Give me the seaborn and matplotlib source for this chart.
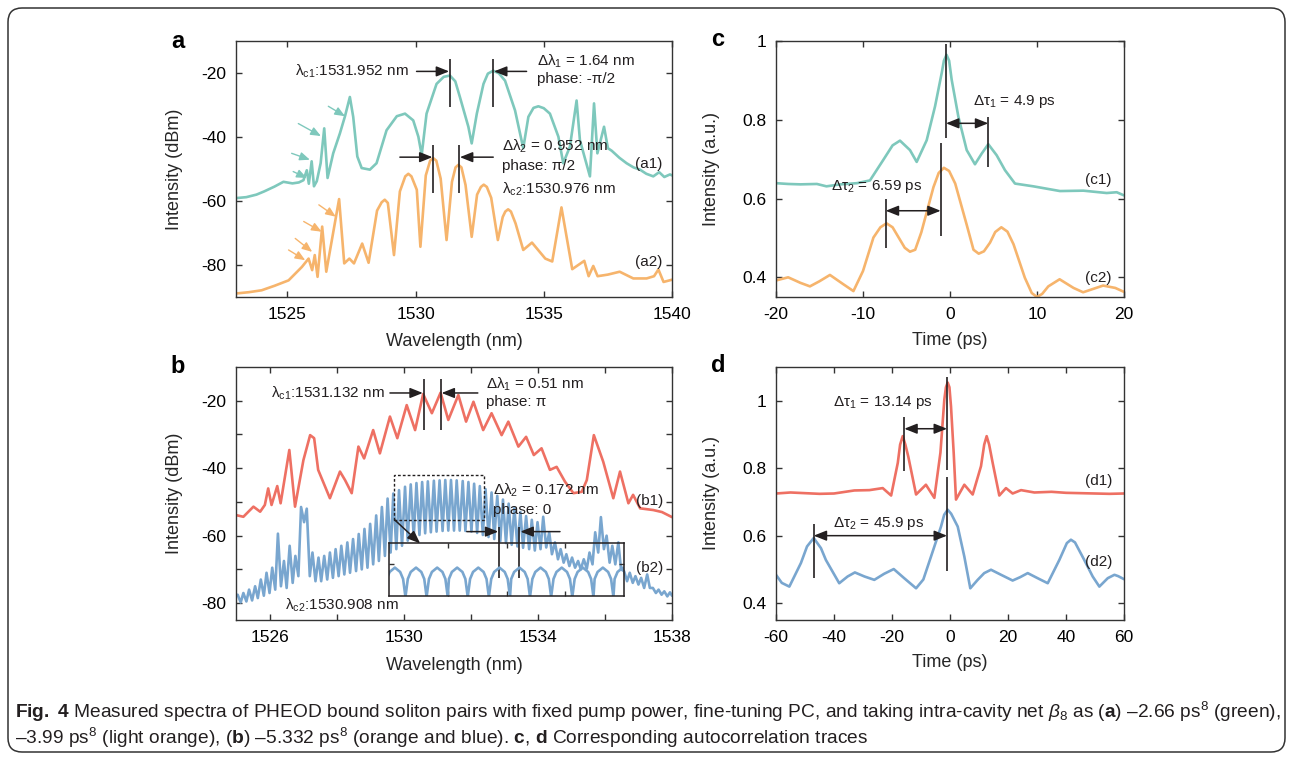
import matplotlib
matplotlib.use("Agg")
import matplotlib.pyplot as plt
import seaborn as sns
from matplotlib.patches import Rectangle, FancyBboxPatch
from matplotlib.transforms import IdentityTransform

# ---------------- data ----------------
# panel a, trace (a1) green
a1_wl = [1523.0, 1523.4, 1523.8, 1524.1, 1524.5, 1524.85, 1525.2, 1525.45, 1525.63, 1525.76,
         1525.84, 1525.95, 1526.04, 1526.15, 1526.3, 1526.44, 1526.57, 1526.79, 1527.05, 1527.25,
         1527.44, 1527.57, 1527.73, 1527.9, 1528.22, 1528.48, 1528.87, 1529.27, 1529.59, 1529.91,
         1530.11, 1530.24, 1530.43, 1530.82, 1531.1, 1531.34, 1531.55, 1531.73, 1532.06, 1532.19,
         1532.39, 1532.65, 1532.82, 1533.03, 1533.25, 1533.49, 1533.88, 1534.2, 1534.4, 1534.6,
         1534.79, 1535.0, 1535.24, 1535.57, 1535.76, 1536.02, 1536.28, 1536.41, 1536.8, 1536.96,
         1537.09, 1537.35, 1537.5, 1537.65, 1537.95, 1538.23, 1538.5, 1538.75, 1539.0, 1539.27,
         1539.5, 1539.7, 1539.92, 1540.0]
a1_db = [-59.1, -58.8, -58.0, -57.0, -55.5, -54.0, -54.5, -54.2, -53.5, -50.4,
         -54.6, -47.6, -55.4, -53.8, -48.2, -37.3, -52.8, -45.1, -38.9, -33.5,
         -27.5, -33.7, -46.1, -49.7, -50.2, -48.2, -37.9, -33.5, -32.7, -34.8,
         -39.9, -45.6, -32.7, -23.4, -21.2, -20.8, -22.6, -27.5, -36.8, -42.0,
         -32.7, -23.4, -20.2, -19.3, -20.1, -22.4, -31.7, -43.5, -33.7, -30.9,
         -30.4, -31.0, -32.7, -39.9, -48.2, -43.0, -28.6, -41.0, -52.3, -29.5,
         -45.1, -36.8, -43.5, -44.3, -46.5, -48.2, -49.5, -50.2, -51.5, -52.3,
         -51.0, -52.5, -51.7, -52.0]

# panel a, trace (a2) light orange
a2_wl = [1523.0, 1523.5, 1524.0, 1524.5, 1525.05, 1525.57, 1525.83, 1525.97, 1526.07, 1526.18,
         1526.36, 1526.52, 1527.02, 1527.22, 1527.42, 1527.6, 1527.92, 1528.17, 1528.5, 1528.68,
         1528.8, 1528.92, 1529.16, 1529.39, 1529.6, 1529.72, 1529.84, 1530.05, 1530.19, 1530.4,
         1530.57, 1530.69, 1530.81, 1530.98, 1531.21, 1531.42, 1531.56, 1531.67, 1531.79, 1531.95,
         1532.19, 1532.4, 1532.55, 1532.66, 1532.78, 1532.95, 1533.21, 1533.4, 1533.5, 1533.61,
         1533.72, 1533.9, 1534.2, 1534.54, 1535.06, 1535.33, 1535.69, 1536.11, 1536.58, 1536.75,
         1536.93, 1537.1, 1537.5, 1537.96, 1538.49, 1539.01, 1539.3, 1539.47, 1539.67, 1540.0]
a2_db = [-88.9, -88.5, -87.9, -86.5, -84.8, -80.6, -78.0, -81.6, -76.9, -83.7,
         -68.0, -82.1, -59.4, -79.5, -78.0, -79.5, -73.3, -79.3, -63.0, -60.4,
         -59.6, -60.6, -76.9, -57.0, -52.3, -51.5, -52.3, -56.5, -74.3, -52.0,
         -47.4, -46.6, -47.4, -53.0, -72.2, -54.0, -49.5, -48.7, -49.5, -55.0,
         -71.2, -58.0, -55.6, -54.9, -55.6, -59.0, -72.2, -65.0, -63.3, -62.6,
         -63.3, -67.0, -75.3, -73.0, -78.0, -78.9, -62.0, -81.3, -78.7, -83.5,
         -80.3, -83.5, -83.0, -82.1, -84.2, -84.2, -83.5, -81.4, -85.3, -84.6]

# panel b, trace (b1) red
b1_wl = [1525.0, 1525.22, 1525.52, 1525.72, 1525.86, 1525.96, 1526.06, 1526.23, 1526.33, 1526.59,
         1526.76, 1527.01, 1527.21, 1527.33, 1527.45, 1527.8, 1528.1, 1528.25, 1528.45, 1528.65,
         1528.82, 1529.09, 1529.29, 1529.59, 1529.81, 1530.09, 1530.34, 1530.58, 1530.84, 1531.1,
         1531.33, 1531.63, 1531.86, 1532.08, 1532.37, 1532.62, 1532.92, 1533.12, 1533.42, 1533.65,
         1533.88, 1534.11, 1534.36, 1534.56, 1534.81, 1535.06, 1535.31, 1535.46, 1535.67, 1535.95,
         1536.25, 1536.45, 1536.7, 1536.84, 1537.05, 1537.44, 1537.7, 1538.0]
b1_db = [-53.9, -54.4, -51.4, -52.9, -50.9, -46.0, -50.9, -45.3, -50.4, -34.6,
         -51.4, -37.6, -30.2, -31.1, -40.5, -48.9, -41.0, -43.5, -47.4, -33.6,
         -37.1, -28.7, -35.6, -24.7, -31.1, -21.3, -28.7, -18.0, -23.7, -17.6,
         -25.7, -18.3, -26.2, -20.3, -28.7, -23.7, -30.2, -26.2, -33.6, -30.7,
         -36.1, -34.1, -40.5, -39.6, -44.0, -47.4, -47.0, -43.5, -30.2, -38.1,
         -48.9, -41.0, -50.4, -47.9, -51.9, -52.4, -53.0, -54.5]

# panel b, trace (b2) blue: fringe maxima and minima
b2_peak_wl = [1525.05, 1525.22, 1525.39, 1525.57, 1525.74, 1525.91, 1526.08, 1526.25, 1526.43, 1526.60,
              1526.77, 1526.94, 1527.11, 1527.28, 1527.46, 1527.63, 1527.80, 1527.97, 1528.14, 1528.32,
              1528.49, 1528.66, 1528.83, 1529.00, 1529.18, 1529.35, 1529.52, 1529.69, 1529.86, 1530.04,
              1530.21, 1530.38, 1530.55, 1530.72, 1530.90, 1531.07, 1531.24, 1531.41, 1531.58, 1531.76,
              1531.93, 1532.10, 1532.27, 1532.44, 1532.62, 1532.79, 1532.96, 1533.13, 1533.30, 1533.48,
              1533.65, 1533.82, 1533.99, 1534.16, 1534.34, 1534.51, 1534.68, 1534.85, 1535.02, 1535.20,
              1535.37, 1535.54, 1535.71, 1535.88, 1536.05, 1536.22, 1536.40, 1536.57, 1536.74, 1536.91,
              1537.08, 1537.26, 1537.43, 1537.60, 1537.77, 1537.94]
b2_peak_db = [-77.5, -77.0, -76.0, -75.0, -73.0, -71.0, -69.5, -59.4, -67.5, -63.0,
              -66.0, -51.5, -52.0, -65.0, -66.5, -66.0, -65.0, -64.0, -63.0, -62.0,
              -61.0, -59.5, -58.0, -56.5, -54.0, -51.5, -49.0, -47.5, -46.5, -45.5,
              -44.8, -44.4, -44.1, -43.9, -43.7, -43.6, -43.5, -43.5, -43.6, -43.8,
              -44.1, -44.6, -45.3, -46.2, -47.2, -48.2, -49.3, -50.5, -51.7, -53.0,
              -54.2, -55.3, -56.0, -54.4, -59.0, -62.0, -64.0, -65.5, -66.5, -67.5,
              -67.0, -65.0, -59.0, -54.5, -60.0, -63.0, -62.0, -70.5, -71.0, -72.0,
              -72.5, -71.5, -75.5, -76.0, -76.5, -76.8]
b2_trough_wl = [1525.14, 1525.31, 1525.48, 1525.65, 1525.83, 1526.00, 1526.17, 1526.34, 1526.51, 1526.69,
                1526.86, 1527.03, 1527.20, 1527.37, 1527.54, 1527.72, 1527.89, 1528.06, 1528.23, 1528.40,
                1528.58, 1528.75, 1528.92, 1529.09, 1529.26, 1529.44, 1529.61, 1529.78, 1529.95, 1530.12,
                1530.30, 1530.47, 1530.64, 1530.81, 1530.98, 1531.16, 1531.33, 1531.50, 1531.67, 1531.84,
                1532.02, 1532.19, 1532.36, 1532.53, 1532.70, 1532.88, 1533.05, 1533.22, 1533.39, 1533.56,
                1533.74, 1533.91, 1534.08, 1534.25, 1534.42, 1534.60, 1534.77, 1534.94, 1535.11, 1535.28,
                1535.46, 1535.63, 1535.80, 1535.97, 1536.14, 1536.31, 1536.48, 1536.66, 1536.83, 1537.00,
                1537.17, 1537.34, 1537.52, 1537.69, 1537.86, 1538.00]
b2_trough_db = [-79.8, -79.5, -79.2, -78.5, -77.8, -77.0, -76.0, -75.0, -75.5, -74.0,
                -72.0, -56.0, -72.0, -73.5, -73.5, -73.0, -72.5, -72.0, -71.5, -71.0,
                -70.5, -70.0, -69.5, -68.5, -67.5, -66.0, -65.0, -64.0, -63.0, -61.5,
                -60.5, -59.8, -59.3, -59.0, -58.8, -58.6, -58.5, -58.5, -58.5, -58.6,
                -58.8, -59.2, -59.8, -60.4, -61.0, -61.6, -62.2, -62.7, -63.2, -63.6,
                -64.0, -64.4, -64.0, -63.5, -65.5, -67.0, -68.0, -69.0, -69.5, -70.0,
                -69.8, -68.5, -65.0, -64.0, -68.0, -68.5, -70.0, -73.5, -74.0, -74.5,
                -75.5, -75.5, -77.0, -77.5, -78.0, -77.8]

# inset of panel b (zoomed fringes)
inset_wl = [1529.96, 1529.98, 1530.005, 1530.05, 1530.095, 1530.12,
            1530.14, 1530.16, 1530.185, 1530.23, 1530.275, 1530.30,
            1530.32, 1530.34, 1530.365, 1530.41, 1530.455, 1530.48,
            1530.50, 1530.51, 1530.535, 1530.58, 1530.625, 1530.65,
            1530.67, 1530.69, 1530.715, 1530.76, 1530.805, 1530.83,
            1530.85, 1530.87, 1530.895, 1530.94, 1530.985, 1531.01,
            1531.03, 1531.04, 1531.065, 1531.11, 1531.155, 1531.18,
            1531.20, 1531.22, 1531.245, 1531.29, 1531.335, 1531.36,
            1531.38, 1531.40, 1531.425, 1531.47, 1531.515, 1531.54,
            1531.56, 1531.58, 1531.605, 1531.65, 1531.695, 1531.72,
            1531.74, 1531.75, 1531.775, 1531.82, 1531.865, 1531.89,
            1531.91, 1531.92, 1531.945, 1531.99, 1532.035, 1532.06,
            1532.08]
inset_db = [-58.5, -49.0, -45.3, -43.0, -45.3, -49.0,
            -58.5, -49.0, -45.3, -43.0, -45.3, -49.0,
            -58.5, -49.0, -45.3, -43.0, -45.3, -49.0,
            -58.5, -49.0, -45.3, -43.0, -45.3, -49.0,
            -58.5, -49.0, -45.3, -43.0, -45.3, -49.0,
            -58.5, -49.0, -45.3, -43.0, -45.3, -49.0,
            -58.5, -49.0, -45.3, -43.0, -45.3, -49.0,
            -58.5, -49.0, -45.3, -43.0, -45.3, -49.0,
            -58.5, -49.0, -45.3, -43.0, -45.3, -49.0,
            -58.5, -49.0, -45.3, -43.0, -45.3, -49.0,
            -58.5, -49.0, -45.3, -43.0, -45.3, -49.0,
            -58.5, -49.0, -45.3, -43.0, -45.3, -49.0,
            -58.5]

# panel c autocorrelation
c1_t = [-20.0, -18.6, -17.2, -15.3, -14.2, -12.6, -10.7, -9.2, -7.7, -6.6, -5.75, -4.6, -3.83,
        -2.68, -1.72, -0.95, -0.7, -0.4, -0.1, 0.19, 0.96, 1.92, 2.87, 3.64, 4.4, 5.36, 6.32, 7.47,
        9.58, 12.64, 15.33, 18.01, 19.16, 20.0]
c1_y = [0.639, 0.637, 0.636, 0.637, 0.631, 0.636, 0.639, 0.646, 0.697, 0.735, 0.747, 0.723, 0.693,
        0.748, 0.834, 0.919, 0.950, 0.965, 0.950, 0.902, 0.808, 0.723, 0.687, 0.714, 0.738, 0.710,
        0.672, 0.638, 0.631, 0.619, 0.620, 0.614, 0.616, 0.608]
c2_t = [-20.0, -18.6, -17.2, -16.1, -15.0, -13.8, -12.3, -11.1, -10.0, -8.8, -8.0, -7.3, -6.6,
        -5.9, -5.2, -4.6, -4.0, -3.3, -1.9, -1.3, -0.7, -0.1, 0.6, 1.9, 2.7, 3.3, 3.9, 4.6, 5.2,
        5.9, 6.6, 7.3, 8.6, 9.4, 10.0, 10.6, 11.3, 12.6, 14.2, 15.3, 17.6, 19.0, 20.0]
c2_y = [0.392, 0.400, 0.386, 0.377, 0.390, 0.406, 0.383, 0.365, 0.416, 0.501, 0.527, 0.537, 0.527,
        0.501, 0.475, 0.465, 0.470, 0.514, 0.629, 0.665, 0.678, 0.670, 0.638, 0.535, 0.470, 0.460,
        0.466, 0.488, 0.515, 0.527, 0.516, 0.484, 0.399, 0.360, 0.350, 0.358, 0.377, 0.395, 0.373,
        0.362, 0.379, 0.373, 0.363]

# panel d autocorrelation
d1_t = [-60.0, -55.0, -50.0, -45.0, -40.0, -33.0, -27.8, -23.2, -20.3, -18.0, -17.2, -16.3, -15.4,
        -14.4, -11.7, -8.3, -5.4, -3.3, -1.95, -1.4, -0.8, -0.2, 0.34, 1.27, 2.07, 4.94, 7.82, 10.69,
        11.8, 12.64, 13.5, 14.71, 17.0, 19.3, 21.6, 24.5, 29.1, 35.0, 40.0, 45.0, 50.0, 55.0, 60.0]
d1_y = [0.725, 0.728, 0.726, 0.724, 0.725, 0.734, 0.735, 0.741, 0.719, 0.816, 0.870, 0.895, 0.870,
        0.835, 0.722, 0.751, 0.712, 0.846, 1.004, 1.040, 1.054, 1.040, 0.984, 0.846, 0.707, 0.751,
        0.722, 0.806, 0.870, 0.895, 0.870, 0.816, 0.719, 0.741, 0.725, 0.735, 0.728, 0.730, 0.727,
        0.726, 0.725, 0.724, 0.725]
d2_t = [-60.0, -58.0, -55.4, -51.4, -49.3, -47.0, -44.5, -42.8, -38.2, -35.3, -32.8, -29.5, -26.1,
        -22.7, -19.4, -15.8, -11.7, -9.2, -6.55, -3.1, -2.0, -0.8, 0.4, 2.66, 4.94, 7.0, 9.54, 11.8,
        14.14, 17.6, 21.6, 24.2, 26.8, 30.2, 33.7, 37.7, 40.3, 41.7, 43.1, 46.3, 49.2, 51.5, 54.4,
        56.7, 58.0, 60.0]
d2_y = [0.484, 0.460, 0.449, 0.519, 0.568, 0.593, 0.563, 0.528, 0.459, 0.479, 0.491, 0.479, 0.469,
        0.487, 0.501, 0.474, 0.444, 0.470, 0.538, 0.627, 0.662, 0.677, 0.665, 0.627, 0.538, 0.444,
        0.469, 0.489, 0.499, 0.484, 0.467, 0.477, 0.489, 0.474, 0.459, 0.528, 0.578, 0.588, 0.580,
        0.528, 0.479, 0.449, 0.474, 0.484, 0.480, 0.471]

# annotation anchors (peak positions marked in the reference)
a1_marks = [1531.34, 1533.03]
a2_marks = [1530.69, 1531.70]
b1_marks = [1530.60, 1531.10]
b2_marks = [1532.85, 1533.45]
c1_marks = [-0.46, 4.4]
c2_marks = [-7.39, -1.07]
d1_marks = [-15.76, -1.03]
d2_marks = [-47.0, -1.03]

TEAL = "#7ec8bc"
ORANGE = "#f6b46c"
RED = "#ee7063"
BLUE = "#79a6cf"
K = "#231f20"

# ---------------- style ----------------
sns.set_theme(style="ticks")
plt.rcParams.update({
    "font.family": ["Liberation Sans", "DejaVu Sans"],
    "mathtext.fontset": "custom",
    "mathtext.rm": "Liberation Sans",
    "mathtext.it": "Liberation Sans:italic",
    "mathtext.bf": "Liberation Sans:bold",
    "axes.unicode_minus": False,
    "axes.edgecolor": "#333333",
    "axes.linewidth": 1.0,
    "xtick.color": "#333333",
    "ytick.color": "#333333",
    "xtick.labelcolor": "black",
    "ytick.labelcolor": "black",
})

W, H = 1292, 759
fig = plt.figure(figsize=(W / 100, H / 100), dpi=100)
fig.patch.set_facecolor("white")


def frac(l, t, r, b):
    return [l / W, 1 - b / H, (r - l) / W, (b - t) / H]


ax_a = fig.add_axes(frac(236, 41, 672, 297))
ax_b = fig.add_axes(frac(236, 367, 672, 620))
ax_c = fig.add_axes(frac(776, 41, 1124, 297))
ax_d = fig.add_axes(frac(776, 367, 1124, 620))


def style(ax):
    ax.tick_params(direction="in", top=True, right=True, length=4.5, width=1.0,
                   labelsize=12.5, pad=7)
    for s in ax.spines.values():
        s.set_linewidth(1.0)
        s.set_color("#333333")


LW = 1.9
ANN = 11


def vline(ax, x, y0, y1):
    ax.plot([x, x], [y0, y1], color=K, lw=1.2, zorder=5, solid_capstyle="butt")


def arrow(ax, tail, head, color=K, lw=1.1, style="-|>", hl=0.7, hw=0.28, ms=11):
    ax.annotate("", xy=head, xytext=tail,
                arrowprops=dict(arrowstyle=f"{style},head_length={hl},head_width={hw}",
                                color=color, lw=lw, shrinkA=0, shrinkB=0,
                                mutation_scale=ms), zorder=6)


def txt(ax, x, y, s, ha="left", size=ANN):
    ax.text(x, y, s, ha=ha, va="center", fontsize=size, color=K, zorder=7)


# ---------------- panel a ----------------
sns.lineplot(x=a1_wl, y=a1_db, ax=ax_a, color=TEAL, lw=LW, sort=False, estimator=None)
sns.lineplot(x=a2_wl, y=a2_db, ax=ax_a, color=ORANGE, lw=LW, sort=False, estimator=None)
ax_a.set_xlim(1523, 1540)
ax_a.set_ylim(-90, -10)
ax_a.set_xticks([1525, 1530, 1535, 1540])
ax_a.set_yticks([-80, -60, -40, -20])
style(ax_a)
ax_a.set_xlabel("Wavelength (nm)", fontsize=13)
ax_a.set_ylabel("Intensity (dBm)", fontsize=13)
ax_a.xaxis.set_label_coords(0.5, -0.14)
ax_a.yaxis.set_label_coords(-0.122, 0.5)

for m in a1_marks:
    vline(ax_a, m, -15.7, -30.6)
arrow(ax_a, (1530.04, -19.5), (a1_marks[0] - 0.03, -19.5))
arrow(ax_a, (1534.33, -19.5), (a1_marks[1] + 0.03, -19.5))
txt(ax_a, 1529.72, -19.5, r"λ$_{\mathrm{c1}}$:1531.952 nm", ha="right")
txt(ax_a, 1534.72, -16.4, r"Δλ$_{1}$ = 1.64 nm")
txt(ax_a, 1534.72, -21.9, "phase: -π/2")
for m in a2_marks:
    vline(ax_a, m, -42.5, -57.6)
arrow(ax_a, (1529.39, -46.3), (a2_marks[0] - 0.03, -46.3))
arrow(ax_a, (1533.03, -46.3), (a2_marks[1] + 0.03, -46.3))
txt(ax_a, 1533.36, -43.0, r"Δλ$_{2}$ = 0.952 nm")
txt(ax_a, 1533.36, -49.0, "phase: π/2")
txt(ax_a, 1533.37, -56.5, r"λ$_{\mathrm{c2}}$:1530.976 nm")
txt(ax_a, 1539.1, -48.4, "(a1)", ha="center")
txt(ax_a, 1539.1, -79.0, "(a2)", ha="center")
# coloured pointer arrows
for tail, head in [((1526.6, -30.4), (1527.25, -33.5)), ((1525.43, -35.8), (1526.31, -39.7)),
                   ((1525.17, -45.1), (1525.88, -47.1)), ((1525.23, -50.8), (1525.76, -52.8))]:
    arrow(ax_a, tail, head, color=TEAL, lw=1.0, hl=0.6, hw=0.25, ms=10)
for tail, head in [((1526.23, -61.2), (1526.89, -64.9)), ((1525.64, -66.4), (1526.34, -69.6)),
                   ((1525.31, -71.7), (1525.97, -75.9)), ((1525.05, -75.3), (1525.70, -78.5))]:
    arrow(ax_a, tail, head, color=ORANGE, lw=1.0, hl=0.6, hw=0.25, ms=10)

# ---------------- panel b ----------------
b2_wl = [v for pair in zip(b2_peak_wl, b2_trough_wl) for v in pair]
b2_db = [v for pair in zip(b2_peak_db, b2_trough_db) for v in pair]
sns.lineplot(x=b1_wl, y=b1_db, ax=ax_b, color=RED, lw=LW, sort=False, estimator=None)
sns.lineplot(x=b2_wl, y=b2_db, ax=ax_b, color=BLUE, lw=LW, sort=False, estimator=None)
ax_b.set_xlim(1525, 1538)
ax_b.set_ylim(-85, -10)
ax_b.set_xticks([1526, 1528, 1530, 1532, 1534, 1536, 1538])
ax_b.set_xticklabels(["1526", "", "1530", "", "1534", "", "1538"])
ax_b.set_yticks([-80, -70, -60, -50, -40, -30, -20])
ax_b.set_yticklabels(["-80", "", "-60", "", "-40", "", "-20"])
style(ax_b)
ax_b.set_xlabel("Wavelength (nm)", fontsize=13)
ax_b.set_ylabel("Intensity (dBm)", fontsize=13)
ax_b.xaxis.set_label_coords(0.5, -0.146)
ax_b.yaxis.set_label_coords(-0.122, 0.5)

for m in b1_marks:
    vline(ax_b, m, -13.5, -28.7)
arrow(ax_b, (1529.59, -17.7), (b1_marks[0] - 0.03, -17.7))
arrow(ax_b, (1532.21, -17.7), (b1_marks[1] + 0.03, -17.7))
txt(ax_b, 1529.42, -17.7, r"λ$_{\mathrm{c1}}$:1531.132 nm", ha="right")
txt(ax_b, 1532.46, -15.0, r"Δλ$_{1}$ = 0.51 nm")
txt(ax_b, 1532.46, -20.5, "phase: π")
ax_b.add_patch(Rectangle((1529.7, -55.4), 2.69, 13.4, fill=False, ec=K, lw=1.0,
                         ls=(0, (2, 1.5)), zorder=5))
arrow(ax_b, (1529.74, -55.4), (1530.49, -62.3))
for m in b2_marks:
    vline(ax_b, m, -57.3, -72.6)
arrow(ax_b, (1531.88, -58.8), (b2_marks[0] - 0.03, -58.8))
arrow(ax_b, (1534.66, -58.8), (b2_marks[1] + 0.03, -58.8))
txt(ax_b, 1532.67, -46.5, r"Δλ$_{2}$ = 0.172 nm")
txt(ax_b, 1532.67, -52.4, "phase: 0")
txt(ax_b, 1526.46, -80.5, r"λ$_{\mathrm{c2}}$:1530.908 nm")
txt(ax_b, 1537.32, -49.6, "(b1)", ha="center")
txt(ax_b, 1537.32, -69.7, "(b2)", ha="center")

ax_in = fig.add_axes(frac(389, 543, 624, 596))
ax_in.patch.set_alpha(0)
sns.lineplot(x=inset_wl, y=inset_db, ax=ax_in, color=BLUE, lw=LW, sort=False, estimator=None)
ax_in.set_xlim(1530.0, 1532.0)
ax_in.set_ylim(-58, -30)
ax_in.set_xticks([1530.5, 1531.0, 1531.5])
ax_in.set_yticks([-41])
ax_in.set_xticklabels([])
ax_in.set_yticklabels([])
ax_in.tick_params(direction="in", top=True, right=True, length=3.5, width=1.0)
for s in ax_in.spines.values():
    s.set_linewidth(1.1)
    s.set_color(K)

# ---------------- panel c ----------------
sns.lineplot(x=c1_t, y=c1_y, ax=ax_c, color=TEAL, lw=LW, sort=False, estimator=None)
sns.lineplot(x=c2_t, y=c2_y, ax=ax_c, color=ORANGE, lw=LW, sort=False, estimator=None)
ax_c.set_xlim(-20, 20)
ax_c.set_ylim(0.35, 1.0)
ax_c.set_xticks([-20, -10, 0, 10, 20])
ax_c.set_yticks([0.4, 0.6, 0.8, 1.0])
ax_c.set_yticklabels(["0.4", "0.6", "0.8", "1"])
style(ax_c)
ax_c.set_xlabel("Time (ps)", fontsize=13)
ax_c.set_ylabel("Intensity (a.u.)", fontsize=13)
ax_c.xaxis.set_label_coords(0.5, -0.137)
ax_c.yaxis.set_label_coords(-0.161, 0.5)

vline(ax_c, c1_marks[0], 0.992, 0.753)
vline(ax_c, c1_marks[1], 0.807, 0.680)
arrow(ax_c, (c1_marks[0], 0.791), (c1_marks[1], 0.791), style="<|-|>")
txt(ax_c, 2.67, 0.846, r"Δτ$_{1}$ = 4.9 ps")
vline(ax_c, c2_marks[1], 0.742, 0.505)
vline(ax_c, c2_marks[0], 0.599, 0.474)
arrow(ax_c, (c2_marks[0], 0.569), (c2_marks[1], 0.569), style="<|-|>")
txt(ax_c, -13.67, 0.631, r"Δτ$_{2}$ = 6.59 ps")
txt(ax_c, 17.0, 0.646, "(c1)", ha="center")
txt(ax_c, 17.0, 0.399, "(c2)", ha="center")

# ---------------- panel d ----------------
sns.lineplot(x=d1_t, y=d1_y, ax=ax_d, color=RED, lw=LW, sort=False, estimator=None)
sns.lineplot(x=d2_t, y=d2_y, ax=ax_d, color=BLUE, lw=LW, sort=False, estimator=None)
ax_d.set_xlim(-60, 60)
ax_d.set_ylim(0.35, 1.1)
ax_d.set_xticks([-60, -40, -20, 0, 20, 40, 60])
ax_d.set_yticks([0.4, 0.6, 0.8, 1.0])
ax_d.set_yticklabels(["0.4", "0.6", "0.8", "1"])
style(ax_d)
ax_d.set_xlabel("Time (ps)", fontsize=13)
ax_d.set_ylabel("Intensity (a.u.)", fontsize=13)
ax_d.xaxis.set_label_coords(0.5, -0.134)
ax_d.yaxis.set_label_coords(-0.161, 0.5)

vline(ax_d, d1_marks[1], 1.071, 0.796)
vline(ax_d, d1_marks[0], 0.951, 0.791)
arrow(ax_d, (d1_marks[0], 0.917), (d1_marks[1], 0.917), style="<|-|>")
txt(ax_d, -40.4, 0.994, r"Δτ$_{1}$ = 13.14 ps")
vline(ax_d, d2_marks[1], 0.774, 0.496)
vline(ax_d, d2_marks[0], 0.635, 0.474)
arrow(ax_d, (d2_marks[0], 0.600), (d2_marks[1], 0.600), style="<|-|>")
txt(ax_d, -40.4, 0.637, r"Δτ$_{2}$ = 45.9 ps")
txt(ax_d, 51.2, 0.761, "(d1)", ha="center")
txt(ax_d, 51.2, 0.523, "(d2)", ha="center")

# ---------------- panel letters ----------------
for letter, (px, py) in {"a": (178, 41), "b": (178, 367), "c": (718, 40), "d": (718, 365)}.items():
    fig.text(px / W, 1 - py / H, letter, fontsize=17, fontweight="bold", ha="center",
             va="center", color="black")

# ---------------- caption ----------------
cap1 = (r"$\mathbf{Fig.}$ $\mathbf{4}$ Measured spectra of PHEOD bound soliton pairs with fixed pump power, "
        r"fine-tuning PC, and taking intra-cavity net $\beta_8$ as ($\mathbf{a}$) –2.66 ps$^8$ (green),")
cap2 = (r"–3.99 ps$^8$ (light orange), ($\mathbf{b}$) –5.332 ps$^8$ (orange and blue). "
        r"$\mathbf{c}$, $\mathbf{d}$ Corresponding autocorrelation traces")
for s, py in [(cap1, 712), (cap2, 738)]:
    fig.text(15 / W, 1 - py / H, s, fontsize=13.8, family=["Liberation Sans"],
             ha="left", va="center", color=K)

# ---------------- frame ----------------
fig.patches.append(FancyBboxPatch((8, 7), 1277, 744, boxstyle="round,pad=0,rounding_size=14",
                                  transform=IdentityTransform(), fill=False, ec="#333333", lw=1.1))

fig.savefig("out.png", dpi=100, facecolor="white")
